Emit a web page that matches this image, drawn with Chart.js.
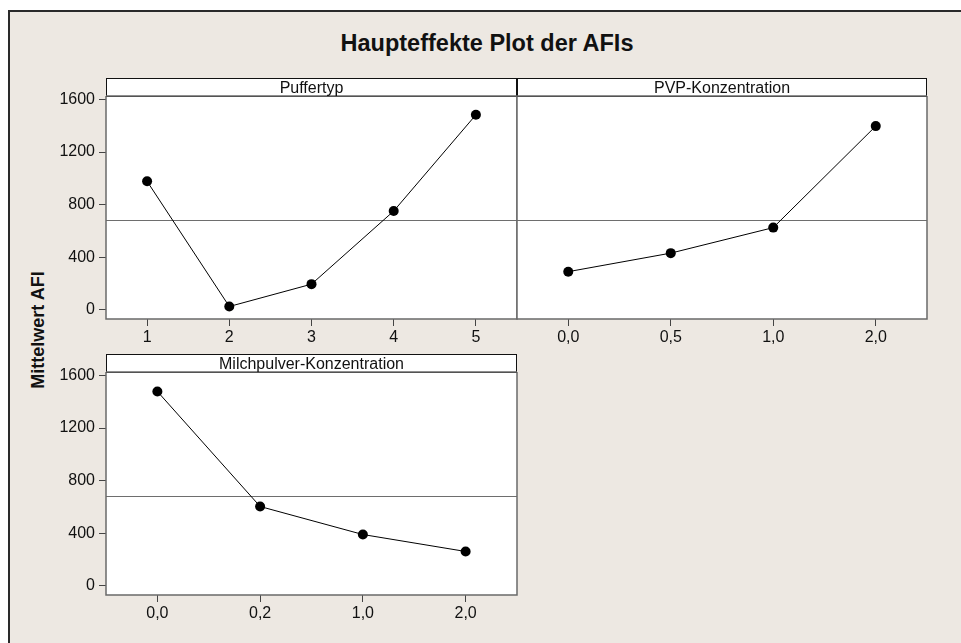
<!DOCTYPE html>
<html><head><meta charset="utf-8">
<script src="https://cdn.jsdelivr.net/npm/chart.js@4"></script>
<style>
html,body{margin:0;padding:0;background:#fff;width:961px;height:643px;overflow:hidden;}
#frame{position:absolute;left:8px;top:10px;width:1000px;height:700px;background:#EDE8E2;border-top:2px solid #2a2a2a;border-left:2px solid #2a2a2a;}
canvas{position:absolute;}
#title{position:absolute;left:0;width:974px;top:30px;text-align:center;font:bold 23.5px "Liberation Sans",Arial,sans-serif;color:#111;line-height:26px;}
#ylab{position:absolute;left:38px;top:330px;transform:translate(-50%,-50%) rotate(-90deg);font:bold 18px "Liberation Sans",Arial,sans-serif;white-space:nowrap;color:#111;}
</style></head>
<body>
<div id="frame"></div>
<div id="title">Haupteffekte Plot der AFIs</div>
<div id="ylab">Mittelwert AFI</div>
<canvas id="c1" width="480" height="290" style="left:40px;top:70px"></canvas>
<canvas id="c2" width="430" height="290" style="left:500px;top:70px"></canvas>
<canvas id="c3" width="480" height="290" style="left:40px;top:345px"></canvas>
<script>
const puffertypLevels = ['1','2','3','4','5'];
const puffertypMeans = [977, 25, 195, 751, 1483];
const pvpLevels = ['0,0','0,5','1,0','2,0'];
const pvpMeans = [290, 431, 625, 1397];
const milchLevels = ['0,0','0,2','1,0','2,0'];
const milchMeans = [1478, 603, 390, 261];
const grandMean = 684;
const yTickValues = [0, 400, 800, 1200, 1600];
const yMin = -70, yMax = 1626;

const FONT = '"Liberation Sans", Arial, sans-serif';
const HEADER_H = 18;

const panelDecor = {
  id: 'panelDecor',
  beforeDraw(chart) {
    const {ctx, chartArea: a} = chart;
    ctx.save();
    ctx.fillStyle = '#ffffff';
    ctx.fillRect(a.left, a.top - HEADER_H, a.right - a.left, a.bottom - a.top + HEADER_H);
    ctx.restore();
  },
  beforeDatasetsDraw(chart) {
    const {ctx, chartArea: a, scales} = chart;
    const y = Math.round(scales.y.getPixelForValue(grandMean)) + 0.5;
    ctx.save();
    ctx.strokeStyle = '#6e6e6e';
    ctx.lineWidth = 1.2;
    ctx.beginPath();
    ctx.moveTo(a.left, y); ctx.lineTo(a.right, y);
    ctx.stroke();
    ctx.restore();
  },
  afterDraw(chart, args, opts) {
    const {ctx, chartArea: a} = chart;
    ctx.save();
    ctx.strokeStyle = '#6a6a6a';
    ctx.lineWidth = 1.5;
    ctx.beginPath();
    ctx.moveTo(a.left, a.top); ctx.lineTo(a.left, a.bottom);
    ctx.lineTo(a.right, a.bottom); ctx.lineTo(a.right, a.top);
    ctx.stroke();
    ctx.strokeStyle = '#111';
    ctx.lineWidth = 1;
    ctx.strokeRect(a.left + 0.5, a.top - HEADER_H + 0.5, a.right - a.left - 1, HEADER_H);
    ctx.strokeStyle = '#6a6a6a';
    ctx.lineWidth = 1.5;
    ctx.beginPath();
    ctx.moveTo(a.left, a.top); ctx.lineTo(a.right, a.top);
    ctx.stroke();
    ctx.fillStyle = '#111';
    ctx.font = '16px ' + FONT;
    ctx.textAlign = 'center';
    ctx.textBaseline = 'alphabetic';
    ctx.fillText(opts.title, (a.left + a.right) / 2, a.top - 3.5);
    ctx.restore();
  }
};

function makePanel(id, labels, values, title, showY, padding, xHeight) {
  return new Chart(document.getElementById(id), {
    type: 'line',
    data: {
      labels: labels,
      datasets: [{
        data: values,
        borderColor: '#000',
        borderWidth: 1,
        pointRadius: 5,
        pointHoverRadius: 5,
        pointBackgroundColor: '#000',
        pointBorderColor: '#000',
        pointBorderWidth: 0,
        tension: 0,
        fill: false
      }]
    },
    options: {
      responsive: false,
      animation: false,
      devicePixelRatio: 1,
      layout: {padding: padding, autoPadding: false},
      events: [],
      plugins: {
        legend: {display: false},
        title: {display: false},
        tooltip: {enabled: false},
        panelDecor: {title: title}
      },
      scales: {
        x: {
          type: 'category',
          offset: true,
          grid: {drawOnChartArea: false, drawTicks: true, tickLength: 7, tickColor: '#444', tickWidth: 1},
          border: {display: false},
          ticks: {color: '#111', font: {family: FONT, size: 16}, padding: 2, maxRotation: 0, autoSkip: false},
          afterFit: s => { s.height = xHeight; }
        },
        y: {
          type: 'linear',
          display: showY,
          min: yMin,
          max: yMax,
          afterBuildTicks: s => { s.ticks = yTickValues.map(v => ({value: v})); },
          grid: {drawOnChartArea: false, drawTicks: true, tickLength: 7, tickColor: '#444', tickWidth: 1},
          border: {display: false},
          ticks: {color: '#111', font: {family: FONT, size: 16}, padding: 4, callback: v => String(v)},
          afterFit: s => { s.width = showY ? 66 : 0; }
        }
      }
    },
    plugins: [panelDecor]
  });
}

makePanel('c1', puffertypLevels, puffertypMeans, 'Puffertyp', true, {left: 0, right: 3, top: 26, bottom: 0}, 41);
makePanel('c2', pvpLevels, pvpMeans, 'PVP-Konzentration', false, {left: 17, right: 3, top: 26, bottom: 0}, 41);
makePanel('c3', milchLevels, milchMeans, 'Milchpulver-Konzentration', true, {left: 0, right: 3, top: 27, bottom: 0}, 40);
</script>
</body></html>
